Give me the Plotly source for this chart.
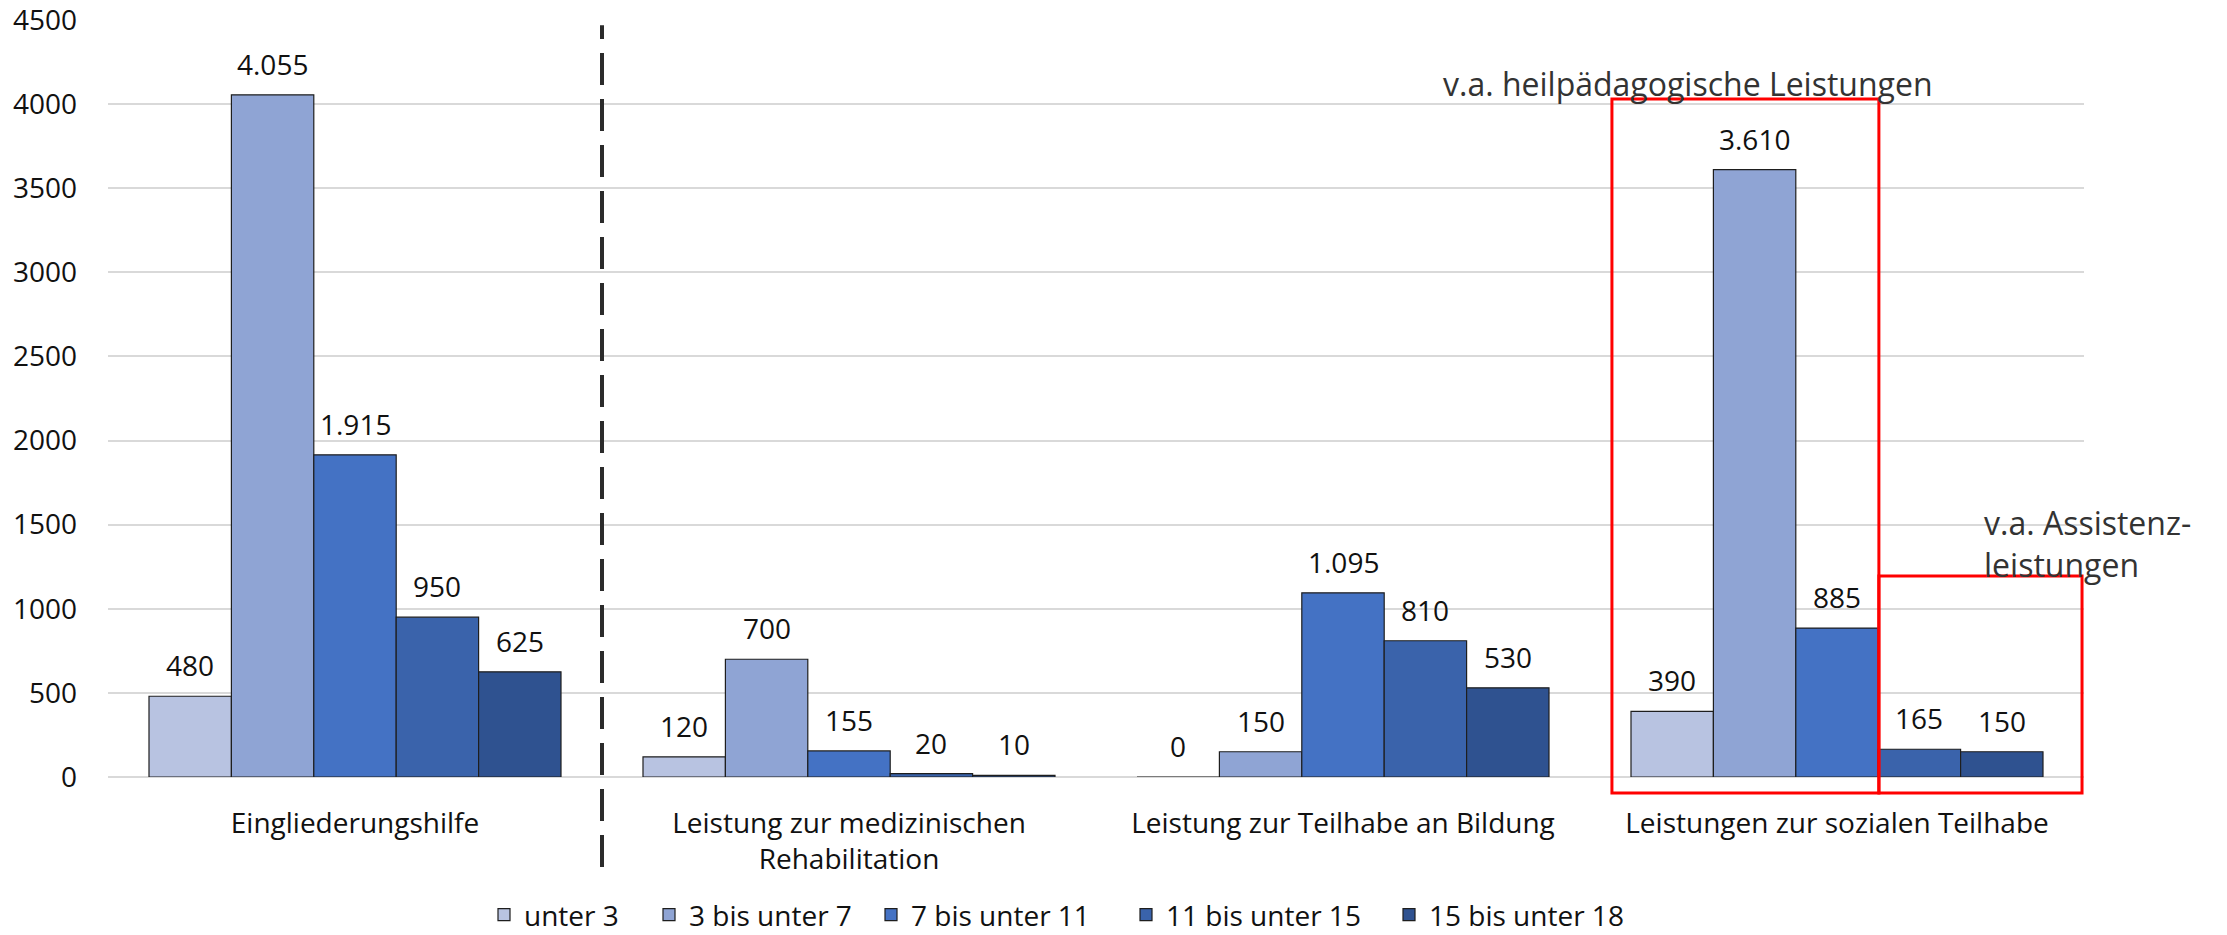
import plotly.graph_objects as go

categories = ["Eingliederungshilfe",
              "Leistung zur medizinischen<br>Rehabilitation",
              "Leistung zur Teilhabe an Bildung",
              "Leistungen zur sozialen Teilhabe"]
series_names = ["unter 3", "3 bis unter 7", "7 bis unter 11", "11 bis unter 15", "15 bis unter 18"]
unter_3 = [480, 120, 0, 390]
bis_7 = [4055, 700, 150, 3610]
bis_11 = [1915, 155, 1095, 885]
bis_15 = [950, 20, 810, 165]
bis_18 = [625, 10, 530, 150]
series_values = [unter_3, bis_7, bis_11, bis_15, bis_18]
colors = ["#B8C3E1", "#8FA4D4", "#4472C4", "#3A63AB", "#2F5290"]
y_ticks = [0, 500, 1000, 1500, 2000, 2500, 3000, 3500, 4000, 4500]

FONT = "Open Sans"
FS = 28
TXT = "#111111"
BARGAP = 0.166
W, H = 2227, 935

# legend entry positions (px of swatch start in the page)
legend_px = [498, 663, 885, 1140, 1403]
legend_ids = ["legend", "legend2", "legend3", "legend4", "legend5"]

fig = go.Figure()
for name, vals, col, lid in zip(series_names, series_values, colors, legend_ids):
    fig.add_trace(go.Bar(
        name=name, x=categories, y=vals, legend=lid,
        marker=dict(color=col, line=dict(color="#1e1e1e", width=1.2)),
        hoverinfo="x+y+name",
    ))

# data labels positioned through the category axis
n = len(series_names)
w = (1 - BARGAP) / n
for j, vals in enumerate(series_values):
    off = -(1 - BARGAP) / 2 + w * (j + 0.5)
    for i, v in enumerate(vals):
        fig.add_annotation(
            x=i + off, y=v, xref="x", yref="y",
            text=f"{v:,}".replace(",", "."),
            showarrow=False, yanchor="middle", yshift=31,
            font=dict(family=FONT, size=FS, color=TXT),
        )

# dashed separator
fig.add_shape(type="line", xref="paper", yref="paper",
              x0=0.25, x1=0.25, y0=-0.119, y1=0.993,
              line=dict(color="#2b2b2b", width=4, dash="32px,14px"))

# red boxes
fig.add_shape(type="rect", xref="paper", yref="paper",
              x0=0.7611, x1=0.8962, y0=-0.0211, y1=0.8956,
              line=dict(color="#FF0000", width=3), fillcolor="rgba(0,0,0,0)")
fig.add_shape(type="rect", xref="paper", yref="paper",
              x0=0.8962, x1=0.999, y0=-0.0211, y1=0.2656,
              line=dict(color="#FF0000", width=3), fillcolor="rgba(0,0,0,0)")

# text notes
fig.add_annotation(x=(1441 - 108) / 1976, y=0.9167, xref="paper", yref="paper",
                   text="v.a. heilpädagogische Leistungen", showarrow=False,
                   xanchor="left", yanchor="middle",
                   font=dict(family=FONT, size=32, color="#333333"))
fig.add_annotation(x=(1982 - 108) / 1976, y=0.3078, xref="paper", yref="paper",
                   text="v.a. Assistenz-<br>leistungen", showarrow=False,
                   xanchor="left", yanchor="middle", align="left",
                   font=dict(family=FONT, size=32, color="#333333"))

legend_common = dict(orientation="h", xanchor="left", yanchor="middle",
                     xref="container", yref="container", y=1 - 915 / H,
                     font=dict(family=FONT, size=FS, color=TXT),
                     bgcolor="rgba(0,0,0,0)", borderwidth=0)
legends = {}
for lid, px in zip(legend_ids, legend_px):
    legends[lid] = dict(legend_common, x=(px - 14) / W)

fig.update_layout(
    width=W, height=H,
    margin=dict(l=108, r=143, t=20, b=158),
    paper_bgcolor="white", plot_bgcolor="white",
    barmode="group", bargap=BARGAP, bargroupgap=0,
    font=dict(family=FONT, size=FS, color=TXT),
    showlegend=True,
    xaxis=dict(showgrid=False, showline=False, ticks="", ticklabelstandoff=27,
               automargin=False,
               tickfont=dict(family=FONT, size=FS, color=TXT)),
    yaxis=dict(range=[0, 4500], tickvals=y_ticks, showgrid=True,
               gridcolor="#D9D9D9", gridwidth=2, zeroline=True,
               zerolinecolor="#D9D9D9", zerolinewidth=2, showline=False,
               ticks="", ticklabelstandoff=30, automargin=False,
               ticklabeloverflow="allow",
               tickfont=dict(family=FONT, size=FS, color=TXT)),
    **legends,
)

fig.write_html("out.html",
               config={"displayModeBar": False},
               post_script="document.body.style.margin='0px';"
                           "document.body.style.overflow='hidden';")
